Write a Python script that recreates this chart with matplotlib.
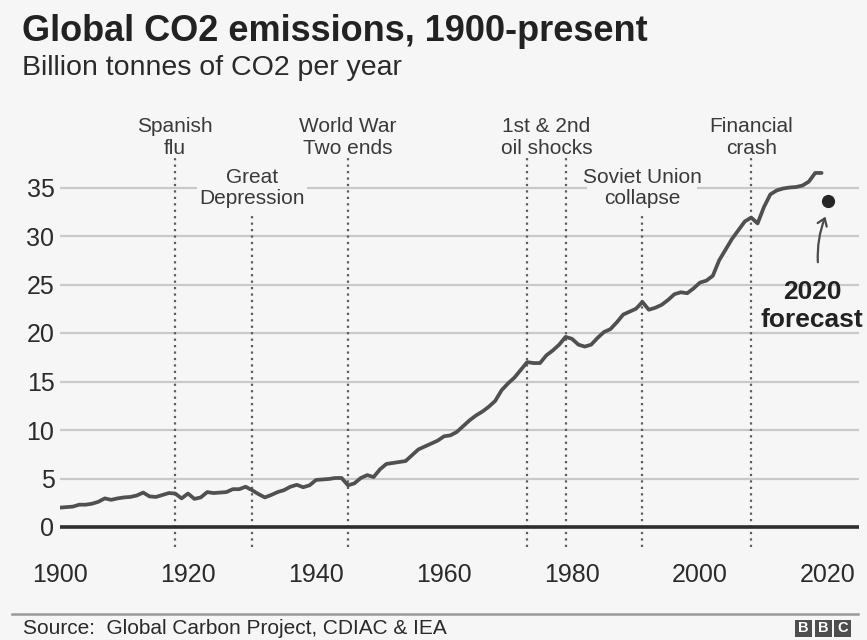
import matplotlib
matplotlib.use("Agg")
import matplotlib.pyplot as plt
from matplotlib.patches import Rectangle, FancyArrowPatch

plt.rcParams["font.family"] = ["Liberation Sans", "DejaVu Sans"]

# Global CO2 emissions, billion tonnes per year
years = list(range(1900, 2020))
emissions = [
    2.0, 2.05, 2.1, 2.3, 2.3, 2.4, 2.6, 2.95, 2.8, 2.95,          # 1900s
    3.05, 3.1, 3.25, 3.55, 3.15, 3.1, 3.3, 3.5, 3.45, 2.95,       # 1910s
    3.45, 2.9, 3.05, 3.6, 3.5, 3.55, 3.6, 3.9, 3.9, 4.15,         # 1920s
    3.8, 3.4, 3.05, 3.3, 3.6, 3.8, 4.15, 4.35, 4.1, 4.3,          # 1930s
    4.85, 4.9, 4.95, 5.05, 5.05, 4.3, 4.5, 5.05, 5.35, 5.15,      # 1940s
    5.95, 6.5, 6.6, 6.7, 6.8, 7.4, 8.0, 8.3, 8.6, 8.9,            # 1950s
    9.35, 9.45, 9.8, 10.4, 11.0, 11.5, 11.9, 12.4, 13.0, 14.1,    # 1960s
    14.8, 15.4, 16.2, 17.0, 16.9, 16.9, 17.7, 18.2, 18.8, 19.6,   # 1970s
    19.4, 18.8, 18.6, 18.8, 19.5, 20.1, 20.4, 21.1, 21.9, 22.2,   # 1980s
    22.5, 23.2, 22.4, 22.6, 22.9, 23.4, 24.0, 24.2, 24.1, 24.6,   # 1990s
    25.2, 25.4, 25.9, 27.5, 28.6, 29.7, 30.6, 31.5, 31.9, 31.3,   # 2000s
    33.0, 34.3, 34.7, 34.9, 35.0, 35.05, 35.2, 35.6, 36.5, 36.5,  # 2010s
]
forecast_year = 2020
forecast_value = 33.6

y_ticks = [0, 5, 10, 15, 20, 25, 30, 35]
x_ticks = [1900, 1920, 1940, 1960, 1980, 2000, 2020]

# Historical events marked with dotted lines
event_years = [1918, 1930, 1945, 1973, 1979, 1991, 2008]

BG = "#f6f6f6"
TEXT = "#2b2b2b"
LINE = "#505050"
GRID = "#c9c9c9"

W, H = 867, 640
fig = plt.figure(figsize=(W / 100, H / 100), dpi=100, facecolor=BG)


def fx(px):
    return px / W


def fy(py):
    return 1 - py / H


def vy(py):
    # value on the y scale for a pixel row (0 at row 527, 9.7 px per unit)
    return (527 - py) / 9.7


def vx(px):
    # year for a pixel column (1900 at column 60, 6.4 px per year)
    return 1900 + (px - 60) / 6.4


# axes spans pixel x 60..859 and pixel y 100..560
ax = fig.add_axes([fx(60), fy(560), fx(859) - fx(60), fy(100) - fy(560)])
ax.set_facecolor(BG)
for s in ax.spines.values():
    s.set_visible(False)

ax.set_xlim(1900, vx(859))
ax.set_ylim(vy(560), vy(100))

ax.set_yticks(y_ticks)
ax.set_yticklabels([str(t) for t in y_ticks])
ax.set_xticks(x_ticks)
ax.set_xticklabels([str(t) for t in x_ticks])
ax.tick_params(axis="both", length=0, labelsize=18, colors=TEXT)
ax.tick_params(axis="y", pad=4)
ax.tick_params(axis="x", pad=2)
ax.yaxis.grid(True, color=GRID, linewidth=1.6, zorder=0)
ax.set_axisbelow(True)

# zero baseline
ax.axhline(0, color="#2e2e2e", linewidth=2.6, zorder=2)

# dotted event markers
tops = {1918: 158, 1930: 213, 1945: 158, 1973: 158, 1979: 158, 1991: 213, 2008: 158}
for yr in event_years:
    ax.plot([yr, yr], [vy(547), vy(tops[yr])], color="#5c5c5c",
            linewidth=1.6, linestyle=(0, (1, 1.9)), zorder=1, clip_on=False)

# emissions line
ax.plot(years, emissions, color=LINE, linewidth=2.7, solid_joinstyle="round",
        solid_capstyle="round", zorder=4)

# forecast point and arrow
ax.plot([forecast_year], [forecast_value], "o", color="#262626", markersize=8.5, zorder=5)
arrow = FancyArrowPatch((vx(818), vy(265)), (vx(826.5), vy(214)),
                        arrowstyle="->,head_length=5,head_width=3.5",
                        connectionstyle="arc3,rad=-0.12", color="#4a4a4a",
                        linewidth=1.6, zorder=5)
ax.add_patch(arrow)
ax.text(vx(812), vy(292), "2020", ha="center", va="center",
        fontsize=19, fontweight="bold", color="#222222")
ax.text(vx(812), vy(320), "forecast", ha="center", va="center",
        fontsize=19, fontweight="bold", color="#222222")

# event labels (pixel y of each line's centre)
ANN = "#3a3a3a"
labels = [
    (1918, ["Spanish", "flu"], 127, False),
    (1930, ["Great", "Depression"], 177, True),
    (1945, ["World War", "Two ends"], 127, False),
    (1976, ["1st & 2nd", "oil shocks"], 127, False),
    (1991, ["Soviet Union", "collapse"], 177, True),
    (2008, ["Financial", "crash"], 127, False),
]
for x, lines, py0, masked in labels:
    if masked:
        # blank out the gridline behind the label
        ax.add_patch(Rectangle((x - 8.6, vy(208)), 17.2, 4.4,
                               facecolor=BG, edgecolor="none", zorder=1.5))
    for i, t in enumerate(lines):
        ax.text(x, vy(py0 + 21 * i), t, ha="center", va="center",
                fontsize=15, color=ANN, zorder=3)

# title block
fig.text(fx(22), fy(41), "Global CO2 emissions, 1900-present", fontsize=26,
         fontweight="bold", color="#222222", va="baseline", ha="left")
fig.text(fx(22), fy(75), "Billion tonnes of CO2 per year", fontsize=20.5,
         color="#2a2a2a", va="baseline", ha="left")

# footer
fig.add_artist(plt.Line2D([fx(12), fx(858)], [fy(614), fy(614)], color="#9a9a9a",
                          linewidth=1.8, transform=fig.transFigure))
fig.text(fx(23), fy(628), "Source:  Global Carbon Project, CDIAC & IEA", fontsize=15,
         color="#2a2a2a", va="center", ha="left")
for i, ch in enumerate("BBC"):
    x0 = 795 + i * 19.5
    fig.add_artist(Rectangle((fx(x0), fy(637)), fx(17), fy(620) - fy(637),
                             transform=fig.transFigure, facecolor="#4e4e4e",
                             edgecolor="none"))
    fig.text(fx(x0 + 8.5), fy(628.5), ch, fontsize=10.5, fontweight="bold",
             color="white", ha="center", va="center")

fig.savefig("out.png", dpi=100, facecolor=BG)
